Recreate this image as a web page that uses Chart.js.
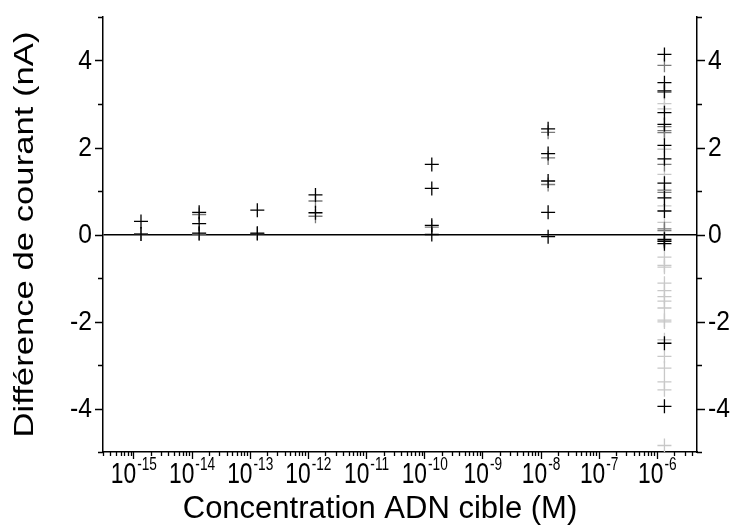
<!DOCTYPE html>
<html>
<head>
<meta charset="utf-8">
<title>Différence de courant vs concentration ADN cible</title>
<script src="https://cdn.jsdelivr.net/npm/chart.js@4.4.1/dist/chart.umd.min.js"></script>
<style>
    html, body { margin: 0; padding: 0; background: #ffffff; }
    #wrap { width: 737px; height: 532px; position: relative; }
</style>
</head>
<body>
<div id="wrap"><canvas id="currentChart"></canvas></div>
<script>
// concentrations (M) of the measured columns
const concentrations = [1.35e-15, 1.35e-14, 1.35e-13, 1.35e-12, 1.35e-10, 1.35e-8, 1.35e-6];

// current difference (nA), one list per column, per marker shade
const blackValues = [
    [0.30, 0.01],
    [0.51, 0.25, 0.03],
    [0.56, 0.03],
    [0.91, 0.50],
    [1.61, 1.06, 0.21, 0.0],
    [2.43, 1.86, 1.23, 0.51, -0.05],
    [4.14, 3.49, 3.30, 2.80, 2.53, 2.05, 1.74, 1.18, 0.84, 0.54, -0.11, -0.16, -0.21, -2.50, -3.95]
];
const greyValues = [
    [0.01],
    [0.46, 0.01],
    [0.02],
    [0.77, 0.42],
    [0.17],
    [2.35, 1.76, 1.15],
    [3.89, 3.27, 2.48, 2.39, 2.34, 1.61, 1.02, 0.97, 0.13, 0.09, -0.14]
];
const lightValues = [
    [], [], [], [], [], [],
    [3.01, 2.89, 1.96, 1.38, 0.66, 0.28, -0.52, -0.71, -0.75, -1.12, -1.29, -1.43, -1.53,
     -1.69, -1.97, -2.01, -2.42, -2.80, -3.07, -3.39, -3.57, -4.85]
];

// axis settings
const xMin = 3e-16;
const xMax = 4.9e-6;
const yMin = -5;
const yMax = 5;
const yTickValues = [-4, -2, 0, 2, 4];
const xDecades = [-15, -14, -13, -12, -11, -10, -9, -8, -7, -6];
const xTitle = "Concentration ADN cible (M)";
const yTitle = "Différence de courant (nA)";

const FONT = '"Liberation Sans", Arial, Helvetica, sans-serif';

function toPoints(columns) {
    const points = [];
    columns.forEach((values, i) => {
        values.forEach(v => points.push({ x: concentrations[i], y: v }));
    });
    return points;
}

function drawScaled(ctx, text, x, y, size, sx, align, baseline) {
    ctx.save();
    ctx.translate(x, y);
    ctx.scale(sx, 1);
    ctx.font = `${size}px ${FONT}`;
    ctx.textAlign = align;
    ctx.textBaseline = baseline;
    ctx.fillText(text, 0, 0);
    ctx.restore();
}

function textWidth(ctx, text, size, sx) {
    ctx.save();
    ctx.font = `${size}px ${FONT}`;
    const w = ctx.measureText(text).width * sx;
    ctx.restore();
    return w;
}

const axisTextPlugin = {
    id: "axisText",
    afterDraw(chart) {
        const { ctx, chartArea: area, scales } = chart;
        const x = scales.x;
        const y = scales.y;

        ctx.save();
        ctx.strokeStyle = "#000000";
        ctx.lineWidth = 1.3;
        ctx.beginPath();

        // y ticks, both sides
        for (let v = yMin; v <= yMax; v++) {
            const py = Math.round(y.getPixelForValue(v)) + 0.5;
            const len = v % 2 === 0 ? 8 : 5;
            ctx.moveTo(area.left - len, py);
            ctx.lineTo(area.left, py);
            ctx.moveTo(area.right, py);
            ctx.lineTo(area.right + len, py);
        }

        // x log ticks
        for (let e = -16; e <= -6; e++) {
            for (let m = 1; m <= 9; m++) {
                const val = m * Math.pow(10, e);
                if (val < xMin * 0.999 || val > xMax) continue;
                const px = Math.round(x.getPixelForValue(val)) + 0.5;
                const len = m === 1 ? 7 : 4;
                ctx.moveTo(px, area.bottom);
                ctx.lineTo(px, area.bottom + len);
            }
        }
        ctx.stroke();

        ctx.fillStyle = "#000000";

        // y tick labels
        yTickValues.forEach(v => {
            const py = y.getPixelForValue(v);
            drawScaled(ctx, String(v), area.left - 11, py + 1, 28, 0.88, "right", "middle");
            drawScaled(ctx, String(v), area.right + 11, py + 1, 28, 0.88, "left", "middle");
        });

        // x tick labels: 10 with superscript exponent
        xDecades.forEach(e => {
            const px = x.getPixelForValue(Math.pow(10, e));
            const base = "10";
            const exp = String(e);
            const wBase = textWidth(ctx, base, 30, 0.76);
            const wExp = textWidth(ctx, exp, 18, 0.76);
            const left = px - (wBase + wExp) / 2;
            drawScaled(ctx, base, left, area.bottom + 31, 30, 0.76, "left", "alphabetic");
            drawScaled(ctx, exp, left + wBase + 1, area.bottom + 18, 18, 0.76, "left", "alphabetic");
        });

        // axis titles
        drawScaled(ctx, xTitle, (area.left + area.right) / 2 - 20, 518, 31, 1.0, "center", "alphabetic");

        ctx.save();
        ctx.translate(25, (area.top + area.bottom) / 2);
        ctx.rotate(-Math.PI / 2);
        ctx.scale(1.02, 0.84);
        ctx.font = `34px ${FONT}`;
        ctx.textAlign = "center";
        ctx.textBaseline = "middle";
        ctx.fillText(yTitle, 0, 0);
        ctx.restore();

        ctx.restore();
    }
};

function crossSeries(label, columns, colour) {
    return {
        label: label,
        data: toPoints(columns),
        pointStyle: "cross",
        pointRadius: 7,
        pointHoverRadius: 7,
        borderWidth: 1.3,
        borderColor: colour,
        backgroundColor: colour,
        showLine: false
    };
}

document.addEventListener("DOMContentLoaded", () => {
    const canvas = document.getElementById("currentChart");

    new Chart(canvas, {
        type: "scatter",
        data: {
            datasets: [
                crossSeries("noir", blackValues, "#000000"),
                crossSeries("gris", greyValues, "#7a7a7a"),
                crossSeries("gris clair", lightValues, "#c8c8c8")
            ]
        },
        options: {
            responsive: true,
            maintainAspectRatio: false,
            devicePixelRatio: 1,
            animation: false,
            layout: {
                padding: { left: 103, right: 40, top: 17, bottom: 80 }
            },
            plugins: {
                legend: { display: false },
                tooltip: { enabled: false }
            },
            scales: {
                x: {
                    type: "logarithmic",
                    min: xMin,
                    max: xMax,
                    ticks: { display: false },
                    grid: { drawTicks: false, color: "transparent" },
                    border: { display: true, color: "#000000", width: 1.5 }
                },
                y: {
                    type: "linear",
                    position: "left",
                    min: yMin,
                    max: yMax,
                    ticks: { display: false, stepSize: 1 },
                    grid: {
                        drawTicks: false,
                        color: c => (c.tick && c.tick.value === 0 ? "#000000" : "transparent"),
                        lineWidth: 1.5
                    },
                    border: { display: true, color: "#000000", width: 1.5 }
                },
                y2: {
                    type: "linear",
                    position: "right",
                    min: yMin,
                    max: yMax,
                    ticks: { display: false },
                    grid: { drawTicks: false, color: "transparent" },
                    border: { display: true, color: "#000000", width: 1.5 }
                }
            }
        },
        plugins: [axisTextPlugin]
    });
});
</script>
</body>
</html>
